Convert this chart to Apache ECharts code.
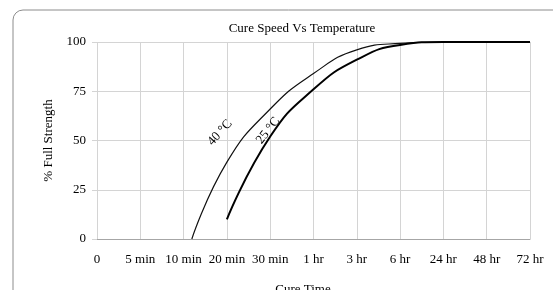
<!DOCTYPE html>
<html>
<head>
<meta charset="utf-8">
<script src="https://cdn.jsdelivr.net/npm/echarts@6/dist/echarts.min.js"></script>
<style>
  html, body { margin: 0; padding: 0; background: #fff; }
  #myChart { width: 553px; height: 290px; }
</style>
</head>
<body>
<div id="myChart"></div>
<script>
// x tick labels (one per gridline, positions 0..10)
var timeLabels = ["0", "5 min", "10 min", "20 min", "30 min", "1 hr", "3 hr", "6 hr", "24 hr", "48 hr", "72 hr"];
var yTicks = [0, 25, 50, 75, 100];

// [tick position, % strength]
var cure40 = [[2.19, 0], [3, 39], [4, 66], [5, 84], [6, 96], [7, 99.3], [8, 100], [9, 100], [10, 100]];
var cure25 = [[3, 10], [4, 52], [5, 76], [6, 91], [7, 98.5], [8, 100], [9, 100], [10, 100]];

// where the curve labels sit
var label40 = [2.84, 54];
var label25 = [3.95, 55];

var font = "'Liberation Serif', 'Times New Roman', serif";
var mycharts = echarts.init(document.getElementById("myChart"));

var option = {
  animation: false,
  textStyle: { fontFamily: font },
  title: [
    {
      text: "Cure Speed Vs Temperature",
      left: 297, top: 17, textAlign: "center",
      textStyle: { fontFamily: font, fontSize: 13, fontWeight: "normal", color: "#000" }
    },
    {
      text: "Cure Time",
      left: 298, top: 278, textAlign: "center",
      textStyle: { fontFamily: font, fontSize: 13, fontWeight: "normal", color: "#000" }
    }
  ],
  graphic: [
    {
      type: "rect",
      shape: { x: 13, y: 10, width: 580, height: 290, r: 10 },
      style: { fill: "none", stroke: "#8c8c8c", lineWidth: 1 },
      silent: true
    }
  ],
  grid: { left: 97, right: 23, top: 42, bottom: 51 },
  xAxis: {
    type: "value",
    min: 0, max: 10, interval: 1,
    axisLine: { show: true, lineStyle: { color: "#a6a6a6" } },
    axisTick: { show: false },
    axisLabel: {
      margin: 14, fontSize: 13, color: "#000", fontFamily: font,
      formatter: function (v) { return timeLabels[Math.round(v)]; }
    },
    splitLine: { show: true, lineStyle: { color: "#d4d4d4" } }
  },
  yAxis: {
    type: "value",
    min: yTicks[0], max: yTicks[yTicks.length - 1], interval: 25,
    name: "% Full Strength",
    nameLocation: "middle",
    nameGap: 42,
    nameTextStyle: { fontFamily: font, fontSize: 13, color: "#000" },
    axisLine: { show: false },
    axisTick: { show: true, length: 5, lineStyle: { color: "#d4d4d4" } },
    axisLabel: { margin: 11, fontSize: 13, color: "#000", fontFamily: font },
    splitLine: { show: true, lineStyle: { color: "#d4d4d4" } }
  },
  series: [
    {
      name: "40 °C",
      type: "line",
      smooth: 0.5,
      showSymbol: false,
      data: cure40,
      lineStyle: { color: "#111", width: 1.2 },
      z: 3,
      markPoint: {
        symbol: "circle", symbolSize: 0,
        label: {
          show: true, position: "inside", rotate: 48,
          formatter: "40 °C", fontFamily: font, fontSize: 13, color: "#000"
        },
        data: [{ coord: label40 }]
      }
    },
    {
      name: "25 °C",
      type: "line",
      smooth: 0.5,
      showSymbol: false,
      data: cure25,
      lineStyle: { color: "#000", width: 2 },
      z: 4,
      markPoint: {
        symbol: "circle", symbolSize: 0,
        label: {
          show: true, position: "inside", rotate: 52,
          formatter: "25 °C", fontFamily: font, fontSize: 13, color: "#000"
        },
        data: [{ coord: label25 }]
      }
    }
  ]
};
mycharts.setOption(option);
</script>
</body>
</html>
